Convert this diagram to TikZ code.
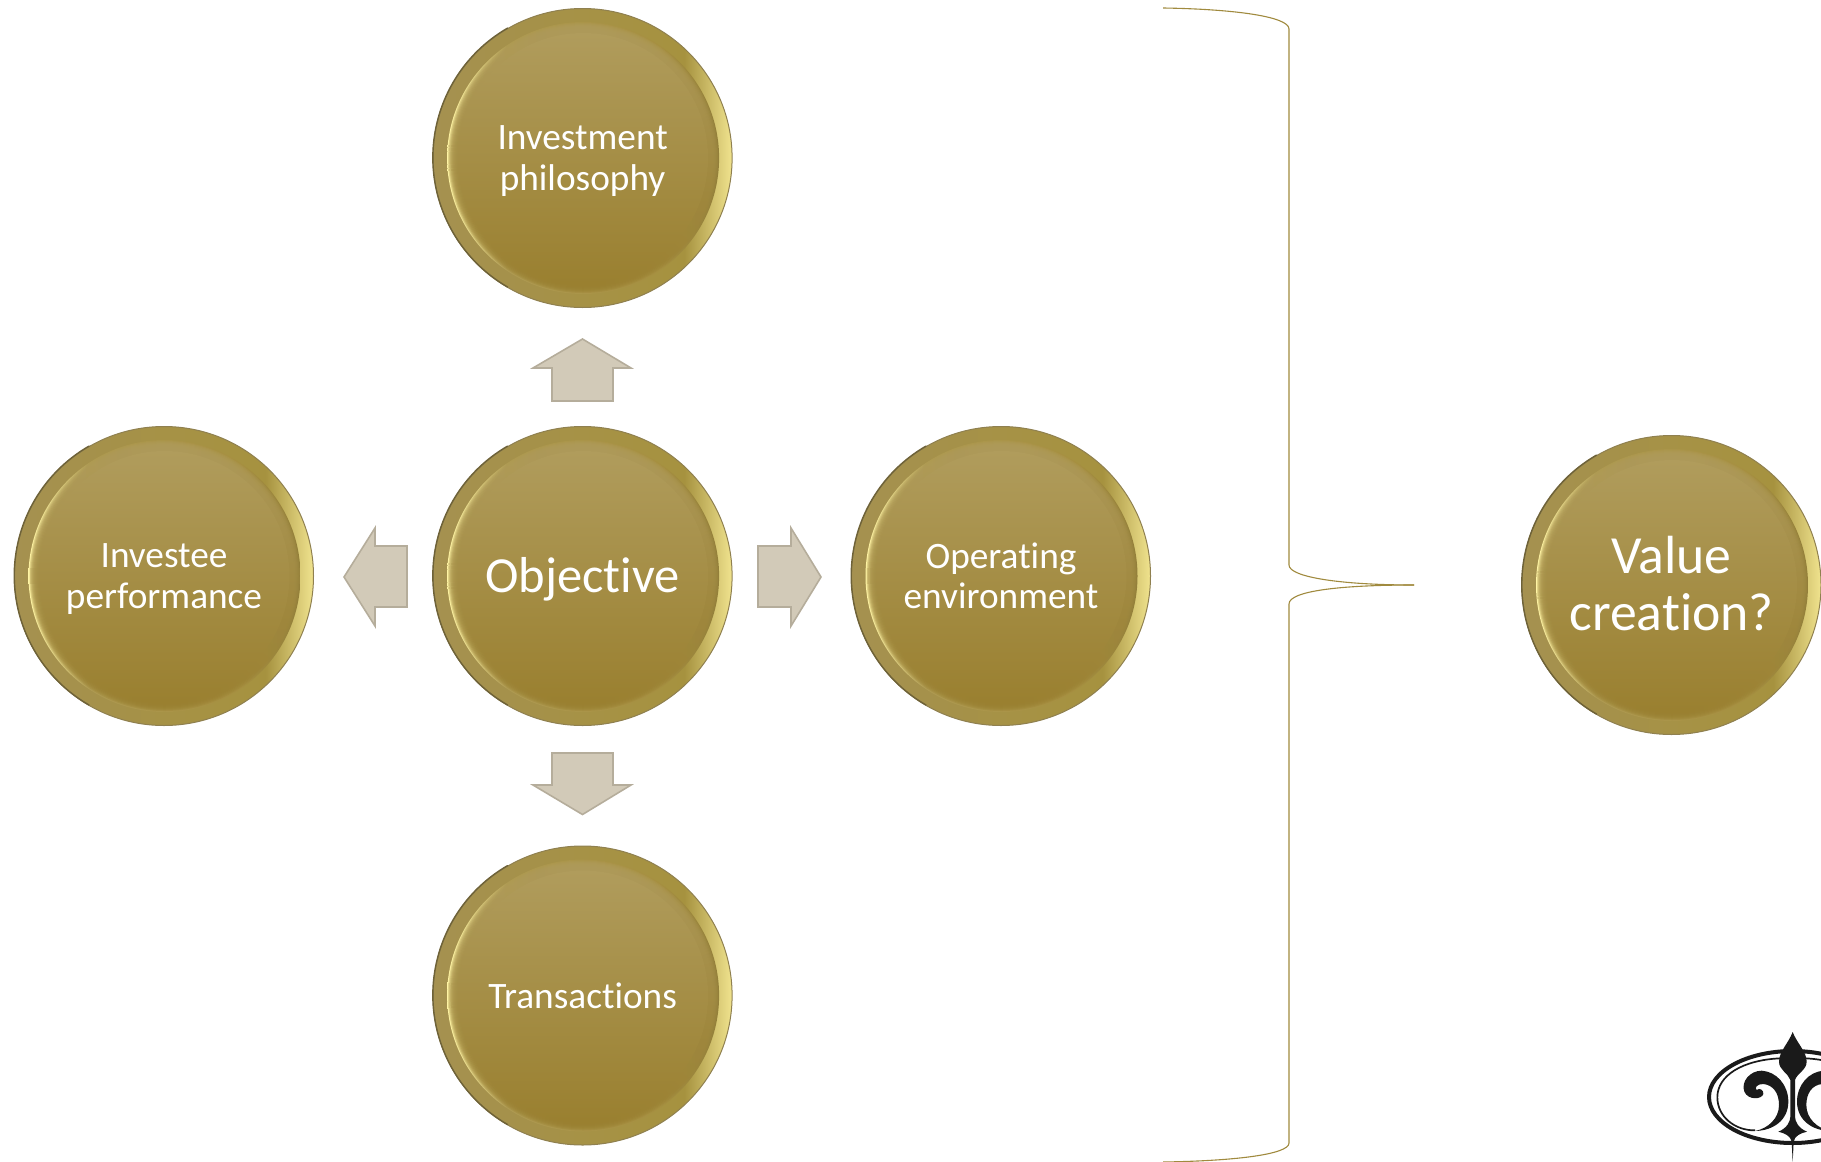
\documentclass[tikz,border=0pt]{standalone}
\usepackage{fontspec}
\setmainfont[Ligatures=NoCommon]{Carlito}
\definecolor{goldtop}{HTML}{B09C5C}
\definecolor{goldbot}{HTML}{9A8030}
\definecolor{rimedge}{HTML}{8F8050}
\definecolor{rimdark}{HTML}{6E6238}
\definecolor{rima}{HTML}{A59150}
\definecolor{rimb}{HTML}{A6923F}
\definecolor{rimc}{HTML}{F0E38E}
\definecolor{glowa}{HTML}{FFF4A4}
\definecolor{glowb}{HTML}{AE9A52}
\definecolor{glowc}{HTML}{A68F40}
\definecolor{glowd}{HTML}{937F3A}
\definecolor{arrowfill}{HTML}{D2CAB8}
\definecolor{arrowedge}{HTML}{B5AD9B}
\definecolor{bracecol}{HTML}{A08A3E}
\definecolor{logoink}{HTML}{1A1A1A}
\pgfdeclarehorizontalshading{rimshade}{100bp}{color(0bp)=(rima); color(25bp)=(rima); color(67bp)=(rimb); color(75bp)=(rimc); color(100bp)=(rimc)}
\pgfdeclarehorizontalshading{glowshade}{100bp}{color(0bp)=(glowa); color(25bp)=(glowa); color(36bp)=(glowb); color(64bp)=(glowc); color(75bp)=(glowd); color(100bp)=(glowd)}
\tikzset{
  coinouter/.style={circle,inner sep=0pt,minimum size=299pt,shading=rimshade,draw=rimedge,line width=1pt},
  coinshade/.style={draw=rimdark,line width=1.4pt,line cap=round},
  coinglow/.style={shading=glowshade},
  coinfade/.style={top color=goldtop,bottom color=goldbot,opacity=.3},
  coinlabel/.style={align=center,text=white,inner sep=0pt},
  blockarrow/.style={fill=arrowfill,draw=arrowedge,line width=1.6pt,line join=miter,miter limit=10},
  bracket/.style={draw=bracecol,line width=1.1pt},
  logopart/.style={fill=logoink,draw=none}
}
\newcommand{\lnstrut}{\rule[-.3em]{0pt}{.9em}}
\newcommand{\coin}[7]{%
  \node[coinouter] (#1o) at (#2,#3) {};
  \draw[coinshade] (#1o.120) arc[start angle=240,end angle=120,radius=149.5];
  \path[coinglow] (#2+.5,#3) circle (136);
  \foreach \r in {135,134,133,132,131,130,129,128,127,126}{\path[coinfade] (#2+.5,#3) circle (\r);}
  \path[top color=goldtop,bottom color=goldbot] (#2+.5,#3) circle (125);
  \node[coinlabel,font=\fontsize{#5}{#6}\selectfont] (#1) at (#2,#3+#7) {#4};
}
\begin{document}
\begin{tikzpicture}[x=1pt,y=-1pt]
\useasboundingbox (0,0) rectangle (1821,1162);
\clip (0,0) rectangle (1821,1162);
\coin{top}{582.6}{158}{\lnstrut Investment\\ \lnstrut philosophy}{37.3}{40.5}{5.5}
\coin{obj}{582.6}{576}{\lnstrut Objective}{50.5}{50}{7}
\coin{left}{164}{576}{\lnstrut Investee\\ \lnstrut performance}{37.3}{40.5}{5.5}
\coin{right}{1001}{576}{\lnstrut Operating\\ \lnstrut environment}{37.3}{40.5}{5.5}
\coin{bot}{582.6}{995.5}{\lnstrut Transactions}{37.3}{40.5}{5.5}
\coin{val}{1671.5}{585}{\lnstrut Value\\ \lnstrut creation?}{53.7}{57}{6}
% block arrows
\draw[blockarrow] (582.5,339) -- (631,368) -- (613,368) -- (613,401) -- (552,401) -- (552,368) -- (533,368) -- cycle;
\draw[blockarrow] (582.5,814.5) -- (631,785) -- (613,785) -- (613,753) -- (552,753) -- (552,785) -- (533,785) -- cycle;
\draw[blockarrow] (821,577) -- (791,528) -- (791,546) -- (758,546) -- (758,607) -- (791,607) -- (791,626) -- cycle;
\draw[blockarrow] (344,577) -- (375,528) -- (375,546) -- (407,546) -- (407,607) -- (375,607) -- (375,626) -- cycle;
% brace
\coordinate (bracetop) at (1163,8);
\coordinate (bracetip) at (1414,585);
\coordinate (bracebot) at (1163,1162);
\draw[bracket] (bracetop) .. controls (1230,9) and (1289,16) .. (1289,29) -- (1289,565)
  .. controls (1289,577) and (1340,585) .. (bracetip);
\draw[bracket] (bracetip) .. controls (1340,585) and (1289,591) .. (1289,604) -- (1289,1143)
  .. controls (1289,1155) and (1230,1161) .. (bracebot);
% logo
\begin{scope}[shift={(1680,1010)},scale=1/3]
  \draw[logoink,line width=4pt] (338,261) ellipse [x radius=251,y radius=138];
  \foreach \s in {1,-1}{
  \begin{scope}[shift={(338,0)},xscale=\s,shift={(-338,0)}]
    \draw[logoink,line width=1.7pt] (300,145) .. controls (190,150) and (112,195) .. (112,262) .. controls (112,320) and (165,362) .. (225,361);
    \path[logopart] (245,182) .. controls (290,185) and (325,225) .. (325,275)
      .. controls (325,330) and (280,362) .. (225,363)
      .. controls (265,355) and (297,325) .. (297,285)
      .. controls (297,250) and (280,225) .. (250,222)
      .. controls (232,221) and (222,234) .. (230,240)
      .. controls (238,232) and (252,240) .. (250,252)
      .. controls (246,268) and (205,272) .. (193,245)
      .. controls (182,215) and (210,182) .. (245,182) -- cycle;
  \end{scope}}
  \path[logopart] (338,66) .. controls (325,100) and (297,125) .. (297,155)
    .. controls (297,180) and (325,190) .. (331,210) -- (331,320)
    .. controls (331,335) and (320,355) .. (295,365)
    .. controls (315,370) and (332,378) .. (335,395) -- (338,456) -- (341,395)
    .. controls (344,378) and (360,370) .. (381,365)
    .. controls (356,355) and (345,335) .. (345,320) -- (345,210)
    .. controls (351,190) and (380,180) .. (380,155)
    .. controls (380,125) and (351,100) .. (338,66) -- cycle;
\end{scope}
\end{tikzpicture}
\end{document}
